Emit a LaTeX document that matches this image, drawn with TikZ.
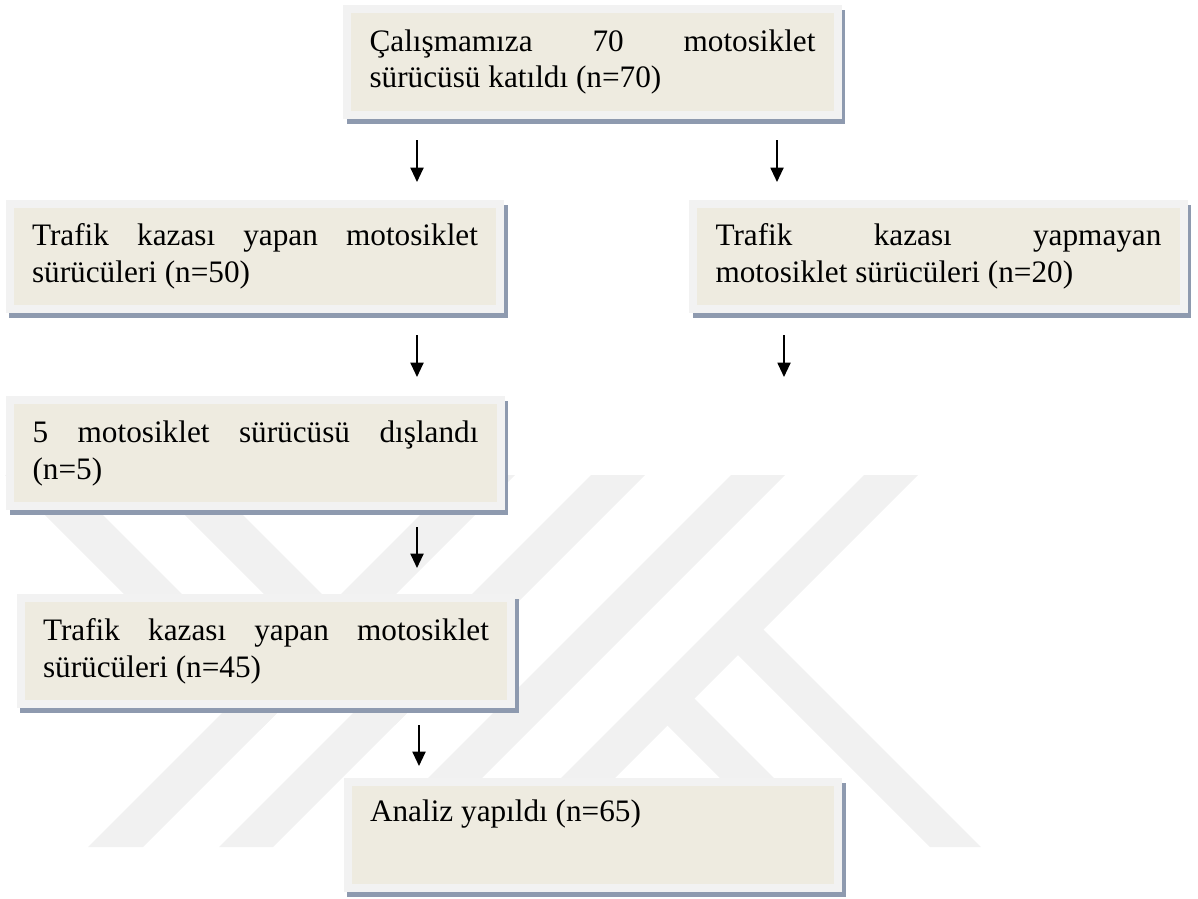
\documentclass[tikz,border=0pt]{standalone}
\usepackage{fontspec}
\setmainfont{Liberation Serif}
\usepackage{xcolor}
\usepackage{tikz}
\usetikzlibrary{calc,arrows.meta}
\definecolor{paper}{HTML}{EEEBE0}
\definecolor{rim}{HTML}{F2F2F2}
\definecolor{shade}{HTML}{8E9AAF}
\definecolor{mark}{HTML}{F1F1F1}
\tikzset{
  box/.style={draw=rim, fill=paper, line width=0.108cm, minimum height=1.431cm,
    text width=6.021cm, inner xsep=0.304cm, inner ysep=0pt, align=justify,
    font=\fontsize{12}{14.2}\selectfont,
    execute at begin node={\hyphenpenalty=10000\relax\tolerance=10000\relax},
    preaction={draw=shade, line width=0.108cm, transform canvas={xshift=0.047cm, yshift=-0.0675cm}}},
  arr/.style={draw=black, line width=0.7pt, -{Triangle[width=5pt,length=5.5pt]}},
  wm/.style={fill=mark},
}
\begin{document}
\begin{tikzpicture}[x=0.0135cm, y=-0.0135cm]
  \useasboundingbox (0,0) rectangle (1198,898);
  \fill[wm] (5,475) -- (63,475) -- (289,701) -- (260,730) -- cycle;
  \fill[wm] (145,475) -- (203,475) -- (424,696) -- (395,725) -- cycle;
  \fill[wm] (460,475) -- (515,475) -- (143,847) -- (88,847) -- cycle;
  \fill[wm] (591,475) -- (645,475) -- (273,847) -- (219,847) -- cycle;
  \fill[wm] (731,475) -- (785,475) -- (413,847) -- (359,847) -- cycle;
  \fill[wm] (864,475) -- (918,475) -- (546,847) -- (492,847) -- cycle;
  \fill[wm] (750,616) -- (981,847) -- (930,847) -- (724.5,641.5) -- cycle;
  \fill[wm] (681,685) -- (843,847) -- (789,847) -- (654,712) -- cycle;
  \node[box] (start) at (592.5,62) {Çalışmamıza 70 motosiklet\linebreak sürücüsü katıldı (n=70)};
  \node[box] (crash) at (255,256.5) {Trafik kazası yapan motosiklet\linebreak sürücüleri (n=50)};
  \node[box] (nocrash) at (938.5,256.5) {Trafik kazası yapmayan\linebreak motosiklet sürücüleri (n=20)};
  \node[box] (excluded) at (255.5,453) {5 motosiklet sürücüsü dışlandı\linebreak (n=5)};
  \node[box] (kept) at (266,651) {Trafik kazası yapan motosiklet\linebreak sürücüleri (n=45)};
  \node[box] (analysis) at (593,835) {Analiz yapıldı (n=65)\\ \strut};
  \foreach \n/\x/\ya/\yb in {1/417/140/182, 2/777/140/182, 3/417/335/377, 4/784/335/377, 5/417/527/568, 6/419/725/766} {
    \coordinate (from\n) at (\x,\ya);
    \coordinate (to\n) at (\x,\yb);
    \draw[arr] (from\n) -- (to\n);
  }
\end{tikzpicture}
\end{document}
